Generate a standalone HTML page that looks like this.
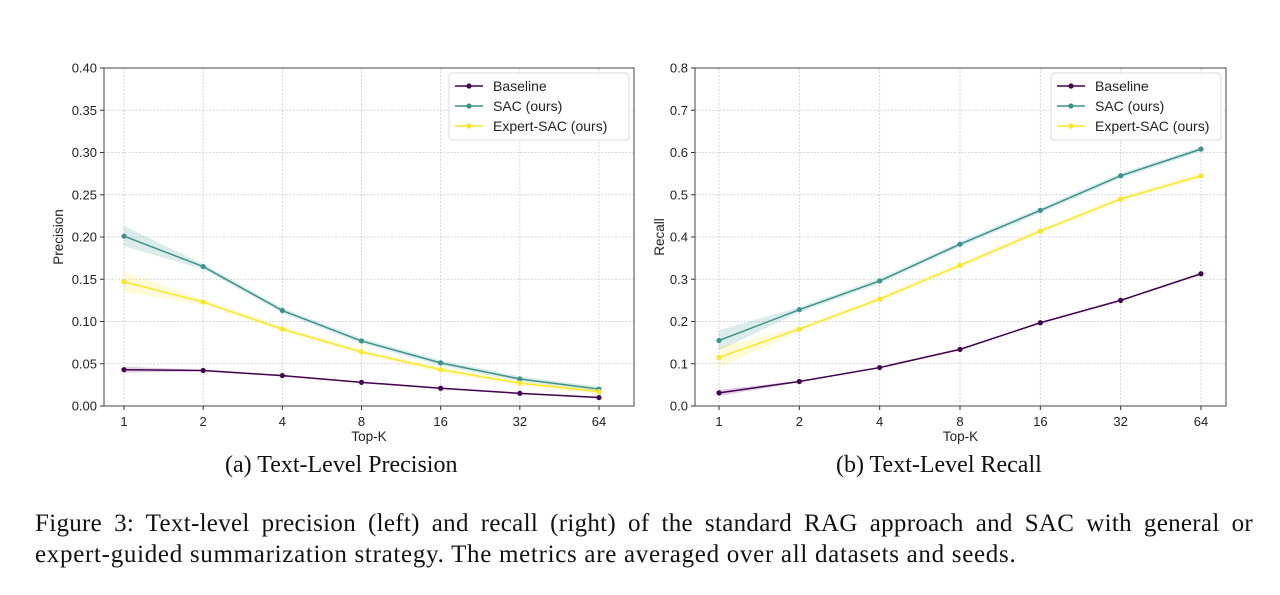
<!DOCTYPE html>
<html><head><meta charset="utf-8"><style>
body{margin:0;background:#fff;width:1280px;height:595px;overflow:hidden;font-family:"Liberation Sans",sans-serif}
svg text{font-family:"Liberation Sans","DejaVu Sans",sans-serif}
.cap{position:absolute;font-family:"Liberation Serif",serif;color:#111;white-space:nowrap}
</style></head><body>
<svg id="fig" width="1280" height="595" style="position:absolute;left:0;top:0"></svg>
<div class="cap" style="left:225px;top:452px;font-size:24px">(a) Text-Level Precision</div>
<div class="cap" style="left:836px;top:452px;font-size:24px">(b) Text-Level Recall</div>
<div class="cap" style="left:35px;top:510px;width:1218px;font-size:25px;letter-spacing:0.3px;text-align:justify;text-align-last:justify;white-space:normal">Figure 3: Text-level precision (left) and recall (right) of the standard RAG approach and SAC with general or</div>
<div class="cap" style="left:35px;top:541px;font-size:25px;letter-spacing:0.7px">expert-guided summarization strategy. The metrics are averaged over all datasets and seeds.</div>
<script>
const categories=["1","2","4","8","16","32","64"];
const seriesNames=["Baseline","SAC (ours)","Expert-SAC (ours)"];
const precBaseline=[0.043,0.042,0.036,0.028,0.021,0.015,0.010];
const precSAC=[0.201,0.165,0.113,0.077,0.051,0.032,0.020];
const precExpert=[0.147,0.123,0.091,0.064,0.043,0.027,0.017];
const recBaseline=[0.031,0.058,0.091,0.134,0.197,0.250,0.313];
const recSAC=[0.155,0.228,0.296,0.383,0.463,0.545,0.608];
const recExpert=[0.115,0.182,0.253,0.333,0.414,0.490,0.545];
const precTicks=["0.00","0.05","0.10","0.15","0.20","0.25","0.30","0.35","0.40"];
const recTicks=["0.0","0.1","0.2","0.3","0.4","0.5","0.6","0.7","0.8"];
const colors=["#440154","#3a948b","#fde725"];
const NS="http://www.w3.org/2000/svg";
const svg=document.getElementById('fig');
function mk(tag,attrs,parent){const e=document.createElementNS(NS,tag);for(const k in attrs)e.setAttribute(k,attrs[k]);(parent||svg).appendChild(e);return e;}
function panel(cfg){
  const g=mk('g',{});
  
  
  const L=cfg.left,R=cfg.right,T=68,B=406,x0=cfg.x0,x1=cfg.x1,ymax=cfg.ymax;
  const xs=i=>x0+(x1-x0)*i/(categories.length-1);
  const ys=v=>B-(B-T)*v/ymax;
  cfg.ticks.forEach((t,i)=>{
    const v=parseFloat(t),y=ys(v);
    const gl=mk('line',{x1:L,x2:R,y1:y,y2:y,stroke:'#ccc','stroke-width':0.8,'stroke-dasharray':'2,1.5'},g);
    
    
    mk('line',{x1:L-4,x2:L,y1:y,y2:y,stroke:'#333'},g);
    const tx=mk('text',{x:L-7,y:y+4.5,'text-anchor':'end','font-size':13,fill:'#222'},g);tx.textContent=t;
    
    
  });
  categories.forEach((c,i)=>{
    const x=xs(i);
    const gl=mk('line',{x1:x,x2:x,y1:T,y2:B,stroke:'#ccc','stroke-width':0.8,'stroke-dasharray':'2,1.5'},g);
    
    
    mk('line',{x1:x,x2:x,y1:B,y2:B+4,stroke:'#333'},g);
    const tx=mk('text',{x:x,y:B+20,'text-anchor':'middle','font-size':13,fill:'#222'},g);tx.textContent=c;
    
    
  });
  const frame=mk('rect',{x:L,y:T,width:R-L,height:B-T,fill:'none',stroke:'#444','stroke-width':1},g);
  
  
  const xl=mk('text',{x:(L+R)/2,y:B+35,'text-anchor':'middle','font-size':13.5,fill:'#222'},g);xl.textContent='Top-K';
  
  
  const yl=mk('text',{x:0,y:0,'text-anchor':'middle','font-size':13.5,fill:'#222',transform:`translate(${cfg.ylx},${(T+B)/2}) rotate(-90)`},g);yl.textContent=cfg.ylabel;
  
  
  cfg.series.forEach((s,k)=>{
    const band=s.map((v,i)=>{const w=(i==0?0.012:0.003)*ymax/0.4*(k==0?0.3:1);return [xs(i),ys(v+w)];})
      .concat(s.map((v,i)=>{const w=(i==0?0.012:0.003)*ymax/0.4*(k==0?0.3:1);return [xs(i),ys(v-w)];}).reverse());
    mk('polygon',{points:band.map(p=>p.join(',')).join(' '),fill:colors[k],opacity:0.18},g);
    const pl=mk('polyline',{points:s.map((v,i)=>xs(i)+','+ys(v)).join(' '),fill:'none',stroke:colors[k],'stroke-width':1.5},g);
    
    
    s.forEach((v,i)=>{
      const c=mk('circle',{cx:xs(i),cy:ys(v),r:2.6,fill:colors[k]},g);
      
      
    });
  });
  const lg=mk('g',{},g);
  
  
  const lx=cfg.legX;
  mk('rect',{x:lx,y:73,width:R-5-lx,height:67,rx:3,fill:'#fff',stroke:'#ddd'},lg);
  seriesNames.forEach((n,k)=>{
    const y=86+k*20;
    const e=mk('g',{},lg);
    
    
    mk('line',{x1:lx+6,x2:lx+34,y1:y,y2:y,stroke:colors[k],'stroke-width':1.5},e);
    mk('circle',{cx:lx+20,cy:y,r:2.6,fill:colors[k]},e);
    const t=mk('text',{x:lx+44,y:y+5,'font-size':14,fill:'#222'},e);t.textContent=n;
  });
}
panel({name:'precision-chart',left:104,right:634,x0:124,x1:599,ymax:0.4,ticks:precTicks,ylabel:'Precision',ylx:63,legX:449,series:[precBaseline,precSAC,precExpert]});
panel({name:'recall-chart',left:695,right:1226,x0:719,x1:1201,ymax:0.8,ticks:recTicks,ylabel:'Recall',ylx:664,legX:1051,series:[recBaseline,recSAC,recExpert]});
</script>
</body></html>
